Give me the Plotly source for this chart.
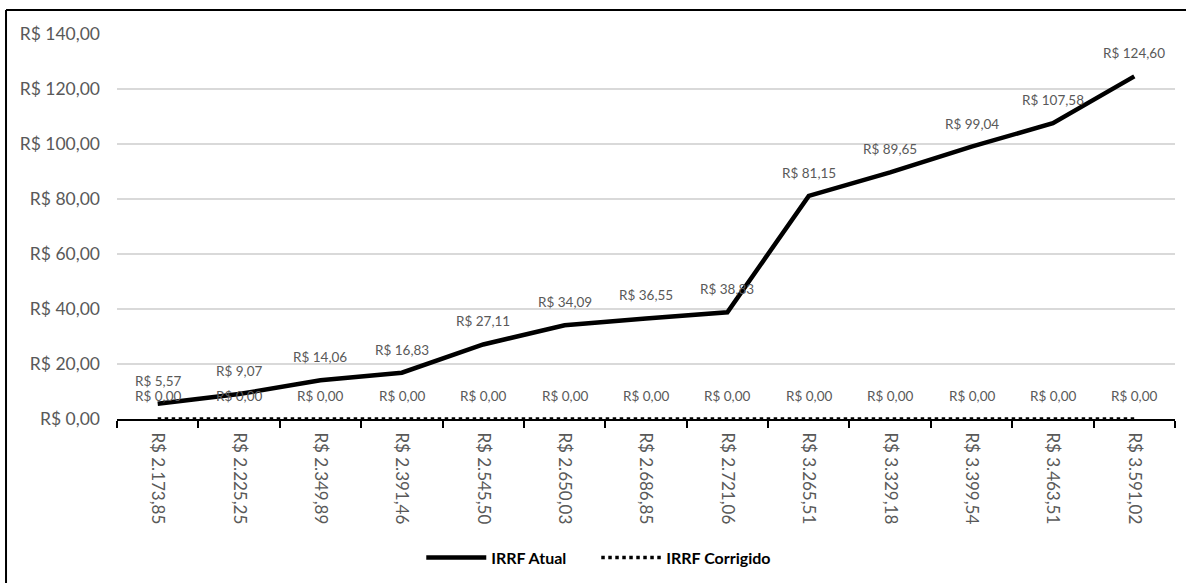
import plotly.graph_objects as go

# Faixas salariais (eixo de categorias)
salarios = ["R$ 2.173,85", "R$ 2.225,25", "R$ 2.349,89", "R$ 2.391,46", "R$ 2.545,50",
            "R$ 2.650,03", "R$ 2.686,85", "R$ 2.721,06", "R$ 3.265,51", "R$ 3.329,18",
            "R$ 3.399,54", "R$ 3.463,51", "R$ 3.591,02"]

# Imposto retido com a tabela atual
irrf_atual = [5.57, 9.07, 14.06, 16.83, 27.11, 34.09, 36.55, 38.83, 81.15, 89.65, 99.04, 107.58, 124.60]

# Imposto retido com a tabela corrigida
irrf_corrigido = [0.00] * 13

y_ticks = [0, 20, 40, 60, 80, 100, 120, 140]


def brl(v):
    s = f"{v:,.2f}"
    return "R$ " + s.replace(",", "X").replace(".", ",").replace("X", ".")


FONT = "Lato"
GRAY = "#595959"

fig = go.Figure()
fig.add_trace(go.Scatter(
    x=salarios, y=irrf_atual, name="IRRF Atual", mode="lines",
    line=dict(color="black", width=4.5),
))
fig.add_trace(go.Scatter(
    x=salarios, y=irrf_corrigido, name="IRRF Corrigido", mode="lines",
    line=dict(color="black", width=3.5, dash="dot"),
))

annotations = []
for series in (irrf_atual, irrf_corrigido):
    for cat, v in zip(salarios, series):
        annotations.append(dict(
            x=cat, y=v, xref="x", yref="y", text=brl(v), showarrow=False,
            yshift=23, font=dict(family=FONT, size=13.5, color=GRAY),
        ))

# moldura do gráfico (bordas superior e esquerda)
frame = dict(color="black", width=2)
shapes = [
    dict(type="line", xref="paper", yref="paper", x0=-0.1049, x1=1.05,
         y0=1.0623, y1=1.0623, line=frame),
    dict(type="line", xref="paper", yref="paper", x0=-0.1049, x1=-0.1049,
         y0=1.0623, y1=-0.5, line=frame),
]

fig.update_layout(
    width=1186, height=583,
    margin=dict(l=117, r=11, t=34, b=164, autoexpand=False),
    paper_bgcolor="white", plot_bgcolor="white",
    showlegend=True,
    legend=dict(
        orientation="h", x=0.453, xanchor="center", y=-0.36, yanchor="middle",
        font=dict(family=FONT, size=16, color="black", weight="bold"),
        itemwidth=60, tracegroupgap=0, entrywidth=100, entrywidthmode="pixels",
    ),
    annotations=annotations,
    shapes=shapes,
)

fig.update_xaxes(
    type="category", range=[-0.5, len(salarios) - 0.5], autorange=False,
    tickson="boundaries", ticks="outside", ticklen=7,
    tickcolor="black", tickwidth=2, showline=True, linecolor="black", linewidth=2,
    showgrid=False, tickangle=90, automargin=False, ticklabelstandoff=8,
    tickfont=dict(family=FONT, size=17, color=GRAY),
)
fig.update_yaxes(
    range=[0, 140], autorange=False, tickvals=y_ticks, ticktext=[brl(v) for v in y_ticks],
    showgrid=True, gridcolor="#d9d9d9", gridwidth=1.5, zeroline=False,
    showline=False, ticks="", ticklabelstandoff=16, automargin=False,
    tickfont=dict(family=FONT, size=17.5, color=GRAY),
)

fig.write_html("out.html")
